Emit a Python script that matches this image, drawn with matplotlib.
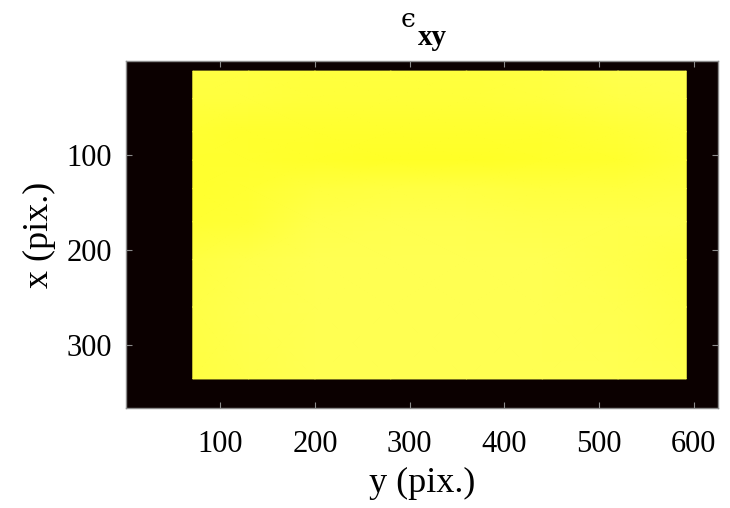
import numpy as np
import matplotlib
matplotlib.use("Agg")
import matplotlib.pyplot as plt

# Field extent (image pixels)
img_width = 625
img_height = 366

# Grid nodes of the measured field (column = y pix, row = x pix)
col_nodes = [71, 130, 200, 280, 360, 440, 520, 592]
row_nodes = [11, 40, 75, 105, 135, 170, 210, 260, 336]

# Field values (normalised colour level on the 'hot' scale)
field = [
    [0.810, 0.810, 0.807, 0.807, 0.807, 0.812, 0.822, 0.822],
    [0.807, 0.807, 0.804, 0.804, 0.804, 0.807, 0.815, 0.817],
    [0.795, 0.792, 0.790, 0.790, 0.790, 0.792, 0.797, 0.807],
    [0.792, 0.790, 0.787, 0.785, 0.785, 0.787, 0.790, 0.802],
    [0.792, 0.795, 0.807, 0.810, 0.810, 0.807, 0.807, 0.812],
    [0.795, 0.800, 0.820, 0.822, 0.822, 0.820, 0.817, 0.817],
    [0.810, 0.817, 0.825, 0.825, 0.825, 0.825, 0.820, 0.812],
    [0.815, 0.822, 0.825, 0.825, 0.825, 0.825, 0.822, 0.815],
    [0.812, 0.820, 0.825, 0.825, 0.825, 0.825, 0.825, 0.822],
]

x_ticks = [100, 200, 300, 400, 500, 600]
y_ticks = [100, 200, 300]

plt.rcParams['font.family'] = ['Liberation Serif', 'DejaVu Serif']

fig = plt.figure(figsize=(7.3, 5.08), dpi=100)
ax = fig.add_axes([126/730, 1 - 408/508, 592/730, 347/508])

cmap = plt.get_cmap('hot')
ax.set_facecolor(cmap(0.0))

X, Y = np.meshgrid(col_nodes, row_nodes)
ax.pcolormesh(X, Y, np.array(field), cmap=cmap, vmin=0, vmax=1,
              shading='gouraud')

ax.set_xlim(0.5, img_width + 0.5)
ax.set_ylim(img_height + 0.5, 0.5)
ax.set_aspect('equal', adjustable='box')

ax.set_xticks(x_ticks)
ax.set_yticks(y_ticks)
ax.tick_params(direction='in', length=4, width=0.8, color='0.55',
               top=True, right=True, labelsize=22)
ax.tick_params(axis='x', pad=16)
ax.tick_params(axis='y', pad=10)
for s in ax.spines.values():
    s.set_color('0.55')
    s.set_linewidth(1.0)

ax.set_xlabel('y (pix.)', fontsize=26, labelpad=6)
ax.set_ylabel('x (pix.)', fontsize=26, labelpad=8)

# Title: epsilon with bold subscript xy
fig.text(408/730, 1 - 27/508, '\u03f5', fontsize=19, ha='center',
         va='baseline', family=['DejaVu Serif'])
fig.text(432/730, 1 - 45/508, 'xy', fontsize=21, fontweight='bold',
         ha='center', va='baseline')

fig.savefig('out.png', dpi=100)
